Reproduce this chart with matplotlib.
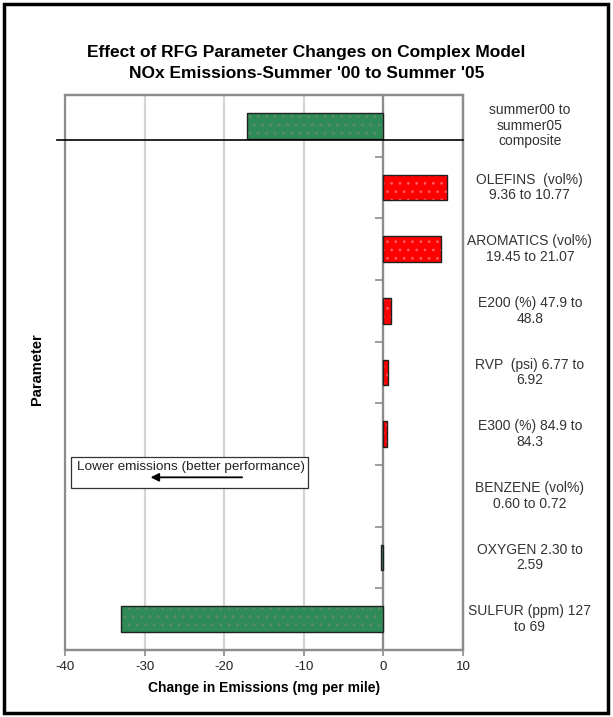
import matplotlib
matplotlib.use("Agg")
import matplotlib.pyplot as plt
from matplotlib.patches import Rectangle

plt.rcParams['font.family'] = ['Liberation Sans', 'DejaVu Sans']
plt.rcParams['axes.unicode_minus'] = False
plt.rcParams['hatch.linewidth'] = 0.8

# parameters, top to bottom
labels = ["summer00 to\nsummer05\ncomposite",
          "OLEFINS  (vol%)\n9.36 to 10.77",
          "AROMATICS (vol%)\n19.45 to 21.07",
          "E200 (%) 47.9 to\n48.8",
          "RVP  (psi) 6.77 to\n6.92",
          "E300 (%) 84.9 to\n84.3",
          "BENZENE (vol%)\n0.60 to 0.72",
          "OXYGEN 2.30 to\n2.59",
          "SULFUR (ppm) 127\nto 69"]
changes = [-17.1, 8.0, 7.2, 0.95, 0.6, 0.4, 0.0, -0.3, -33.0]
xticks = [-40, -30, -20, -10, 0, 10]

GREEN = "#2E8B57"
RED = "#FF0000"
GRAY = "#8c8c8c"

fig = plt.figure(figsize=(6.13, 7.17), dpi=100)
ax = fig.add_axes([65/613, 1-650/717, 398/613, 555/717])

ypos = list(range(len(changes)))
colors = [GREEN if v < 0 else RED for v in changes]
dotcol = ["#5e8a6a" if v < 0 else "#ff5c5c" for v in changes]
edgew = [0 if v == 0 else 1 for v in changes]

#Filled bars with a faint dot pattern, then outline on top
ax.barh(ypos, changes, height=0.42, color=colors, edgecolor=dotcol, hatch='..', linewidth=0, zorder=3)
ax.barh(ypos, changes, height=0.42, fill=False, edgecolor='#202020', linewidth=edgew, zorder=4)

ax.set_xlim(-40, 10)
ax.set_ylim(len(changes)-0.5, -0.5)

#Gridlines
ax.set_xticks(xticks)
ax.xaxis.grid(True, color='#d4d4d4', linewidth=1.6, zorder=0)
ax.set_axisbelow(True)
ax.tick_params(axis='x', direction='out', length=4, width=1.2, color=GRAY,
               labelsize=9.5, labelcolor='#222222', pad=4)

#y axis sits at zero, ticks between categories
ax.spines['left'].set_position(('data', 0))
ax.spines['left'].set_color(GRAY)
ax.spines['left'].set_linewidth(1.6)
ax.set_yticks([k + 0.5 for k in range(len(changes)-1)])
ax.set_yticklabels([])
ax.tick_params(axis='y', direction='out', length=6, width=1.2, color=GRAY)
for s in ['top', 'right', 'bottom']:
    ax.spines[s].set_color(GRAY)
    ax.spines[s].set_linewidth(1.6)
# left frame line
ax.add_patch(Rectangle((0, 0), 1, 1, transform=ax.transAxes, fill=False,
                       edgecolor=GRAY, linewidth=1.6, zorder=1, clip_on=False))

#separator under the composite
ax.plot([-0.02, 1.0], [0.23, 0.23], transform=ax.get_yaxis_transform(),
        color='black', linewidth=1.2, clip_on=False, zorder=5)

#Category labels on the right
for y, lab in zip(ypos, labels):
    ax.text(1.168, y, lab, transform=ax.get_yaxis_transform(), ha='center', va='center',
            fontsize=10, color='#333333', linespacing=1.15)

#Annotation box
ax.add_patch(Rectangle((-39.2, 5.37), 29.7, 0.5, fill=True, facecolor='white',
                       edgecolor='#333333', linewidth=0.9, zorder=6))
ax.text(-38.5, 5.53, "Lower emissions (better performance)", fontsize=9.7,
        color='#222222', va='center', ha='left', zorder=7)
ax.annotate("", xy=(-29.6, 5.70), xytext=(-17.4, 5.70),
            arrowprops=dict(arrowstyle='-|>', color='black', lw=1.3, mutation_scale=12),
            zorder=7)

ax.set_xlabel("Change in Emissions (mg per mile)", fontsize=10, fontweight='bold', labelpad=6)
fig.text(37/613, 1-369/717, "Parameter", rotation=90, ha='center', va='center',
         fontsize=10.5, fontweight='bold')

fig.text(0.5, 1-52/717, "Effect of RFG Parameter Changes on Complex Model",
         ha='center', va='center', fontsize=12.5, fontweight='bold')
fig.text(0.5, 1-73/717, "NOx Emissions-Summer '00 to Summer '05",
         ha='center', va='center', fontsize=12.5, fontweight='bold')

#outer border
fig.add_artist(Rectangle((4/613, 4/717), 604/613, 709/717, transform=fig.transFigure,
                         fill=False, edgecolor='black', linewidth=2.5))

fig.savefig("out.png", dpi=100)
